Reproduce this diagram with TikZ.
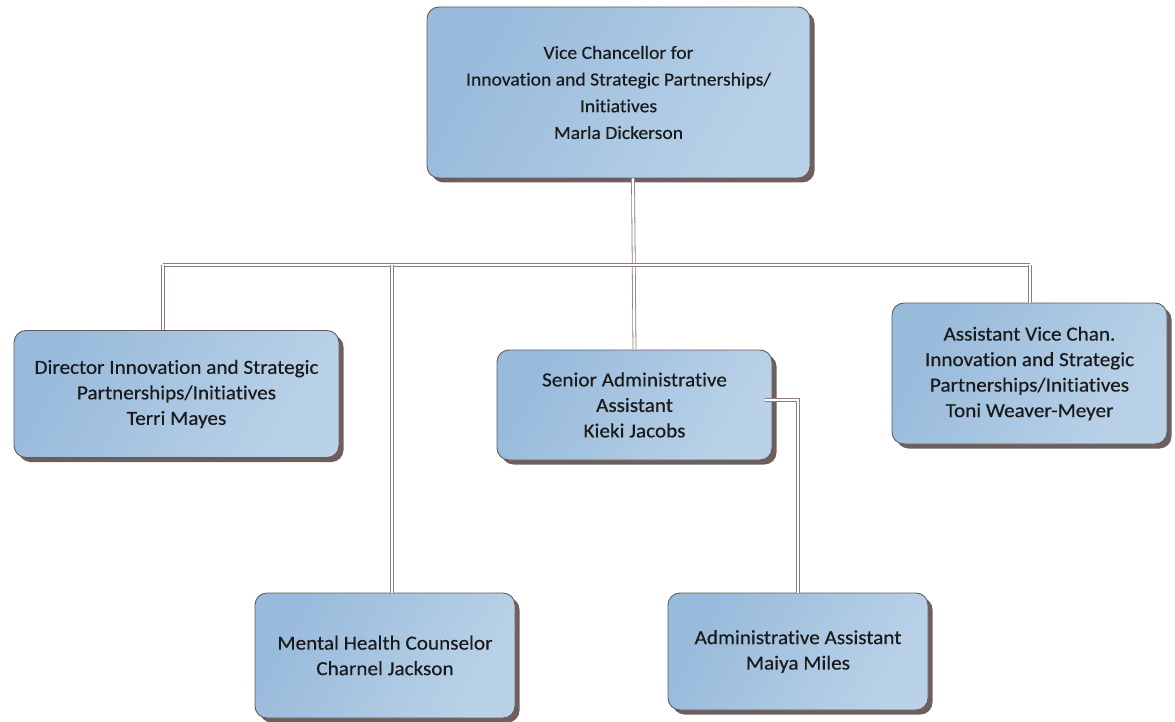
\documentclass[tikz,border=0pt]{standalone}
\usepackage{fontspec}
\setmainfont{Carlito}[Ligatures=NoCommon, FakeStretch=1.06, FakeBold=0.4]
\usetikzlibrary{shadows,calc}
\definecolor{boxA}{HTML}{98BADB}
\definecolor{boxB}{HTML}{BAD2E8}
\definecolor{edgec}{HTML}{635B5A}
\definecolor{shadc}{HTML}{6F5F5C}
\definecolor{linec}{HTML}{8A7D7B}
\definecolor{txt}{HTML}{1A1A1A}
\tikzset{
  orgbox/.style={rectangle, rounded corners=12pt, draw=edgec, line width=0.9pt,
    left color=boxA, right color=boxB, shading angle=60,
    drop shadow={fill=shadc, opacity=1, shadow xshift=4.5pt, shadow yshift=-4.5pt},
    align=center, text=txt, font=\fontsize{20}{25.5}\selectfont, inner sep=0pt},
  topfont/.style={font=\fontsize{18.5}{26.7}\selectfont},
  link/.style={draw=linec, double=white, double distance=2.2pt, line width=0.8pt}
}
\begin{document}
\begin{tikzpicture}[x=1pt,y=1pt]
\useasboundingbox (0,0) rectangle (1175,-722);
\coordinate (busL) at (163,-265);
\coordinate (busR) at (1030,-265);
\coordinate (mhtop) at (392,-265);
\node[orgbox, topfont, minimum width=383pt, minimum height=171pt] (vc) at (618.5,-92.5)
  {Vice Chancellor for\\Innovation and Strategic Partnerships/\\Initiatives\\Marla Dickerson};
\node[orgbox, minimum width=325pt, minimum height=127pt] (dir) at (176.5,-394)
  {Director Innovation and Strategic\\Partnerships/Initiatives\\Terri Mayes};
\node[orgbox, minimum width=275pt, minimum height=110pt] (sa) at (634.5,-405)
  {Senior Administrative\\Assistant\\Kieki Jacobs};
\node[orgbox, minimum width=275pt, minimum height=141pt] (avc) at (1029.5,-373.5)
  {Assistant Vice Chan.\\Innovation and Strategic\\Partnerships/Initiatives\\Toni Weaver-Meyer};
\node[orgbox, minimum width=260pt, minimum height=125pt] (mh) at (385,-655.5)
  {Mental Health Counselor\\Charnel Jackson};
\node[orgbox, minimum width=260pt, minimum height=117pt] (aa) at (798,-651.5)
  {Administrative Assistant\\Maiya Miles};
\coordinate (sajoin) at ($(sa.east)+(-7,5)$);
\coordinate (trunktop) at ($(vc.south)+(14.5,0)$);
\coordinate (trunkbot) at (sa.north);
\draw[link] (trunktop) -- (trunkbot);
\draw[link] (busL) -- (busR);
\draw[link] (busL) -- (busL |- dir.north);
\draw[link] (mhtop) -- (mhtop |- mh.north);
\draw[link] (busR) -- (busR |- avc.north);
\draw[link] (sajoin) -| (aa.north);
\end{tikzpicture}
\end{document}
